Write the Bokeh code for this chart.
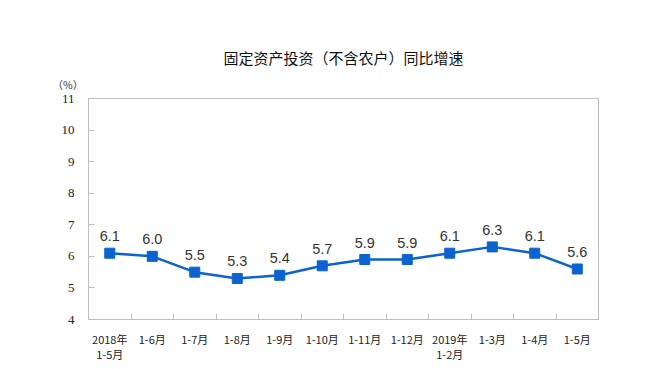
import numpy as np
from bokeh.plotting import figure
from bokeh.models import FixedTicker, Range1d, Title, ColumnDataSource
from bokeh.core.properties import value
from bokeh.embed import file_html
from bokeh.resources import INLINE

categories = ["2018年\n1-5月", "1-6月", "1-7月", "1-8月", "1-9月", "1-10月",
              "1-11月", "1-12月", "2019年\n1-2月", "1-3月", "1-4月", "1-5月"]
growth = [6.1, 6.0, 5.5, 5.3, 5.4, 5.7, 5.9, 5.9, 6.1, 6.3, 6.1, 5.6]
y_ticks = [4, 5, 6, 7, 8, 9, 10, 11]

xs = np.arange(len(categories)) + 0.5
src = ColumnDataSource(dict(x=xs, y=growth, lab=[f"{v:.1f}" for v in growth]))

BLUE = "#0a63cf"
GREY = "#bfbfbf"

p = figure(width=636, height=353, output_backend="svg", toolbar_location=None,
           x_range=Range1d(0, len(categories)), y_range=Range1d(4, 11),
           frame_width=510, frame_height=221,
           min_border_left=88, min_border_right=38, min_border_top=98, min_border_bottom=34)
p.outline_line_color = GREY
p.outline_line_width = 1
p.xgrid.visible = False
p.ygrid.visible = False
p.background_fill_color = "white"
p.border_fill_color = "white"

p.line("x", "y", source=src, line_color=BLUE, line_width=2.5)
p.scatter("x", "y", source=src, marker="square", size=10, fill_color=BLUE, line_color=BLUE)
p.text("x", "y", text="lab", source=src, text_align="center", text_baseline="bottom",
       y_offset=-12, text_font=value("Liberation Sans"), text_font_size="14.5px", text_color="#333333")

xa = p.xaxis[0]
xa.ticker = FixedTicker(ticks=list(xs), minor_ticks=list(range(1, len(categories))))
xa.major_label_overrides = {float(x): c for x, c in zip(xs, categories)}
xa.major_tick_line_color = None
xa.minor_tick_in = 6
xa.minor_tick_out = 0
xa.minor_tick_line_color = GREY
xa.axis_line_color = GREY
xa.major_label_text_font = "Noto Sans CJK SC"
xa.major_label_text_font_size = "11px"
xa.major_label_text_color = "#222222"
xa.major_label_text_line_height = 0.95
xa.major_label_standoff = 5

ya = p.yaxis[0]
ya.ticker = FixedTicker(ticks=y_ticks)
ya.major_tick_in = 6
ya.major_tick_out = 0
ya.minor_tick_line_color = None
ya.major_tick_line_color = GREY
ya.axis_line_color = GREY
ya.major_label_text_font = "Liberation Serif"
ya.major_label_text_font_size = "13px"
ya.major_label_text_color = "#222222"
ya.major_label_standoff = 14

p.title.text = "固定资产投资（不含农户）同比增速"
p.title.align = "center"
p.title.text_font = "Noto Sans CJK SC"
p.title.text_font_size = "15px"
p.title.text_font_style = "normal"
p.title.text_color = "#111111"
p.title.standoff = 0

unit = Title(text="（%）", align="left", offset=-36, text_font="Noto Sans CJK SC",
             text_font_size="10.5px", text_font_style="normal", text_color="#333333",
             standoff=14)
p.add_layout(unit, "above")

open("out.html", "w").write(file_html(p, INLINE))
